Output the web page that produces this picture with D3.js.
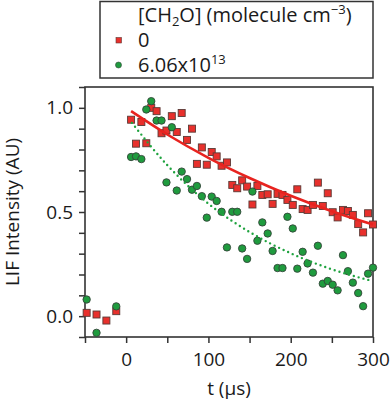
<!DOCTYPE html>
<html>
<head>
<meta charset="utf-8">
<script src="https://cdn.jsdelivr.net/npm/d3@7"></script>
<style>
  body { margin: 0; background: #fff; }
  text { font-family: "Open Sans", sans-serif; fill: #1a1a1a; }
</style>
</head>
<body>
<div id="chart"></div>
<script>
// time axis ticks (µs) and intensity ticks
var xTicks = [-50, 0, 50, 100, 150, 200, 250, 300];
var xLabels = [0, 100, 200, 300];
var yTicks = [-0.1, 0, 0.1, 0.2, 0.3, 0.4, 0.5, 0.6, 0.7, 0.8, 0.9, 1.0, 1.1];
var yLabels = [0, 0.5, 1.0];

// [CH2O] = 0
var redT = [-48, -36, -24, -12, 6, 12, 18.5, 24.5, 30.5, 37, 43, 49, 55.5, 61.5,
    67.5, 74, 80, 86, 92, 98, 104, 110, 116, 122.5, 129, 135, 141, 147, 153.5, 159.5,
    165.5, 172, 178, 184, 190, 196, 202.5, 208, 214.5, 220.5, 227, 233, 239, 245,
    251, 257, 263.5, 269.5, 275.5, 282, 288, 294, 300];
var redV = [0.016, 0.008, -0.021, 0.024, 0.943, 0.828, 0.932, 0.83, 1.0, 0.984, 0.878, 0.891, 0.96, 0.884,
    0.975, 0.846, 0.90, 0.731, 0.81, 0.727, 0.788, 0.767, 0.722, 0.738, 0.63, 0.614, 0.652, 0.622, 0.536, 0.625,
    0.582, 0.585, 0.539, 0.587, 0.582, 0.558, 0.534, 0.609, 0.514, 0.51, 0.534, 0.641, 0.529, 0.59,
    0.499, 0.474, 0.51, 0.505, 0.486, 0.442, 0.402, 0.494, 0.44];

// [CH2O] = 6.06x10^13
var greenT = [-48, -36, -12, 6, 12, 18.5, 24.5, 30.5, 37, 43, 49, 55.5, 61.5,
    67.5, 74, 80, 86, 92, 98, 104, 110, 116, 122.5, 129, 135, 141, 147, 153.5, 159.5,
    165.5, 172, 178, 184, 190, 196, 202.5, 208, 214.5, 220.5, 227, 233, 239, 245,
    251, 257, 263.5, 269.5, 275.5, 282, 288, 294, 300];
var greenV = [0.08, -0.08, 0.047, 0.764, 0.767, 0.754, 0.992, 1.032, 0.939, 0.939, 0.642, 0.907, 0.603,
    0.694, 0.658, 0.607, 0.625, 0.576, 0.473, 0.574, 0.553, 0.501, 0.33, 0.501, 0.501, 0.325, 0.275, 0.598, 0.362,
    0.45, 0.397, 0.313, 0.231, 0.231, 0.477, 0.421, 0.228, 0.309, 0.253, 0.209, 0.338, 0.156, 0.169,
    0.151, 0.124, 0.293, 0.216, 0.161, 0.111, 0.048, 0.204, 0.233];

// fitted decay curves
var fitT = [6, 50, 100, 150, 200, 250, 300];
var redFitV = [0.984, 0.872, 0.760, 0.663, 0.578, 0.504, 0.44];
var greenFitT = [7, 50, 100, 150, 200, 250, 300];
var greenFitV = [0.928, 0.725, 0.540, 0.404, 0.302, 0.225, 0.168];

var margin = { top: 87, right: 19, bottom: 74, left: 85 };
var width = 392 - margin.left - margin.right;
var height = 411 - margin.top - margin.bottom;

var root = d3.select('#chart')
    .append('svg')
    .attr('width', 392)
    .attr('height', 411);

var svg = root.append('g')
    .attr('transform', 'translate(' + margin.left + ',' + margin.top + ')');

var x = d3.scaleLinear().domain([-50, 300]).range([0, width]);
var y = d3.scaleLinear().domain([-0.1, 1.1]).range([height, 0]);

var frameColour = '#333';

// x axis
var xAxis = svg.append('g')
    .attr('transform', 'translate(0,' + height + ')')
    .call(d3.axisBottom(x)
        .tickValues(xTicks)
        .tickSize(6)
        .tickSizeOuter(0)
        .tickPadding(10)
        .tickFormat(function(d) { return xLabels.indexOf(d) > -1 ? d : ''; }));

// y axis
var yAxis = svg.append('g')
    .call(d3.axisLeft(y)
        .tickValues(yTicks)
        .tickSize(6)
        .tickSizeOuter(0)
        .tickPadding(6)
        .tickFormat(function(d) {
            return yLabels.some(function(l) { return Math.abs(l - d) < 1e-9; }) ? d3.format('.1f')(d) : '';
        }));

[xAxis, yAxis].forEach(function(a) {
    a.selectAll('.domain').remove();
    a.selectAll('line').attr('stroke', frameColour).attr('stroke-width', 1.5);
    a.selectAll('text').style('font-size', '19px').attr('fill', '#1a1a1a');
});

// box around plot
svg.append('rect')
    .attr('width', width)
    .attr('height', height)
    .attr('fill', 'none')
    .attr('stroke', frameColour)
    .attr('stroke-width', 1.6);

// axis titles
svg.append('text')
    .attr('x', x(125))
    .attr('y', height + 58)
    .attr('text-anchor', 'middle')
    .style('font-size', '19px')
    .text('t (µs)');

svg.append('text')
    .attr('transform', 'rotate(-90)')
    .attr('x', -(y(0.5)))
    .attr('y', -66)
    .attr('text-anchor', 'middle')
    .style('font-size', '19px')
    .text('LIF Intensity (AU)');

var redData = redT.map(function(t, i) { return { t: t, v: redV[i] }; });
var greenData = greenT.map(function(t, i) { return { t: t, v: greenV[i] }; });

var sq = 7;
svg.selectAll('.red')
    .data(redData)
    .enter().append('rect')
    .attr('class', 'red')
    .attr('x', function(d) { return x(d.t) - sq / 2; })
    .attr('y', function(d) { return y(d.v) - sq / 2; })
    .attr('width', sq)
    .attr('height', sq)
    .attr('fill', '#e8302c')
    .attr('stroke', '#5a3a36')
    .attr('stroke-width', 0.9);

svg.selectAll('.green')
    .data(greenData)
    .enter().append('circle')
    .attr('class', 'green')
    .attr('cx', function(d) { return x(d.t); })
    .attr('cy', function(d) { return y(d.v); })
    .attr('r', 3.7)
    .attr('fill', '#1f9b3e')
    .attr('stroke', '#34453a')
    .attr('stroke-width', 0.9);

var line = d3.line()
    .x(function(d) { return x(d.t); })
    .y(function(d) { return y(d.v); })
    .curve(d3.curveMonotoneX);

svg.append('path')
    .attr('d', line(fitT.map(function(t, i) { return { t: t, v: redFitV[i] }; })))
    .attr('fill', 'none')
    .attr('stroke', '#e8231f')
    .attr('stroke-width', 2.6);

svg.append('path')
    .attr('d', line(greenFitT.map(function(t, i) { return { t: t, v: greenFitV[i] }; })))
    .attr('fill', 'none')
    .attr('stroke', '#1fa33f')
    .attr('stroke-width', 2.4)
    .attr('stroke-linecap', 'round')
    .attr('stroke-dasharray', '0,5');

// legend
var legend = root.append('g').attr('class', 'legend');
legend.append('rect')
    .attr('x', 100)
    .attr('y', 1.5)
    .attr('width', 273)
    .attr('height', 76.5)
    .attr('fill', '#fff')
    .attr('stroke', frameColour)
    .attr('stroke-width', 1.5);

var title = legend.append('text')
    .attr('x', 138)
    .attr('y', 22)
    .style('font-size', '20px');
title.append('tspan').text('[CH');
title.append('tspan').attr('dy', 4).style('font-size', '13px').text('2');
title.append('tspan').attr('dy', -4).text('O] (molecule cm');
title.append('tspan').attr('dy', -8).style('font-size', '13px').text('\u22123');
title.append('tspan').attr('dy', 8).text(')');

legend.append('rect')
    .attr('x', 116).attr('y', 37.5)
    .attr('width', 5.5).attr('height', 5.5)
    .attr('fill', '#e8302c')
    .attr('stroke', '#5a3a36').attr('stroke-width', 0.6);
legend.append('text')
    .attr('x', 138).attr('y', 47)
    .style('font-size', '20px')
    .text('0');

legend.append('circle')
    .attr('cx', 118.5).attr('cy', 65)
    .attr('r', 3)
    .attr('fill', '#1f9b3e')
    .attr('stroke', '#34453a').attr('stroke-width', 0.6);
var lab = legend.append('text')
    .attr('x', 138).attr('y', 72)
    .style('font-size', '20px');
lab.append('tspan').text('6.06x10');
lab.append('tspan').attr('dy', -8).style('font-size', '13px').text('13');
</script>
</body>
</html>
